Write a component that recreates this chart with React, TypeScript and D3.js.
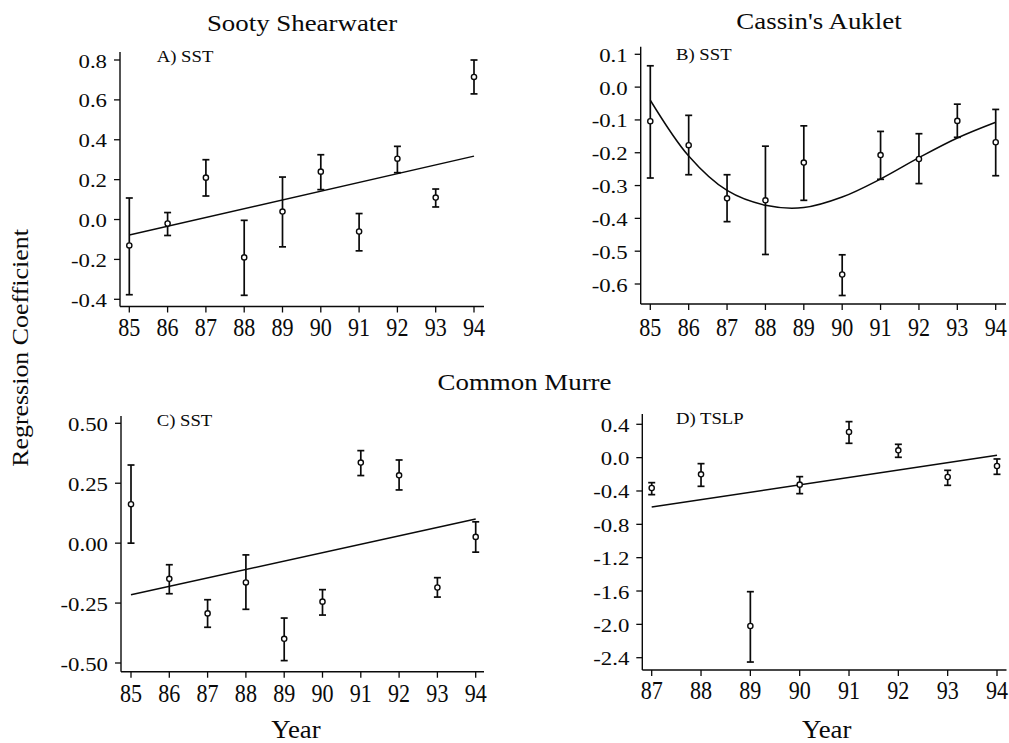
import React from 'react';
import * as d3 from 'd3';

// values
const years = [85, 86, 87, 88, 89, 90, 91, 92, 93, 94];
const tslpYears = [87, 88, 89, 90, 91, 92, 93, 94];

const sootyMean = [-0.13, -0.02, 0.21, -0.19, 0.04, 0.24, -0.06, 0.305, 0.11, 0.715];
const sootyLow = [-0.377, -0.08, 0.118, -0.38, -0.137, 0.15, -0.157, 0.235, 0.063, 0.63];
const sootyHigh = [0.108, 0.035, 0.3, -0.004, 0.213, 0.325, 0.03, 0.367, 0.153, 0.8];
const sootyFitYears = [85, 94];
const sootyFit = [-0.078, 0.318];

const aukletMean = [-0.104, -0.177, -0.339, -0.345, -0.23, -0.571, -0.207, -0.219, -0.103, -0.168];
const aukletLow = [-0.277, -0.267, -0.41, -0.51, -0.345, -0.635, -0.281, -0.294, -0.153, -0.27];
const aukletHigh = [0.065, -0.086, -0.267, -0.18, -0.118, -0.511, -0.135, -0.142, -0.052, -0.068];
const aukletFit = [-0.04, -0.21, -0.315, -0.36, -0.367, -0.335, -0.28, -0.215, -0.155, -0.107];

const murreSstMean = [0.1625, -0.149, -0.293, -0.164, -0.399, -0.244, 0.336, 0.283, -0.185, 0.026];
const murreSstLow = [0.0, -0.211, -0.351, -0.276, -0.49, -0.3, 0.282, 0.222, -0.225, -0.0375];
const murreSstHigh = [0.326, -0.09, -0.236, -0.049, -0.3125, -0.194, 0.386, 0.347, -0.144, 0.089];
const murreSstFitYears = [85, 94];
const murreSstFit = [-0.215, 0.101];

const murreTslpMean = [-0.364, -0.2, -2.02, -0.324, 0.308, 0.088, -0.232, -0.1];
const murreTslpLow = [-0.444, -0.344, -2.452, -0.432, 0.172, 0.004, -0.332, -0.2];
const murreTslpHigh = [-0.3, -0.072, -1.608, -0.228, 0.432, 0.16, -0.152, -0.016];
const murreTslpFitYears = [87, 94];
const murreTslpFit = [-0.592, 0.028];

const ticksA = [-0.4, -0.2, 0.0, 0.2, 0.4, 0.6, 0.8];
const ticksB = [-0.6, -0.5, -0.4, -0.3, -0.2, -0.1, 0.0, 0.1];
const ticksC = [-0.5, -0.25, 0.0, 0.25, 0.5];
const ticksD = [-2.4, -2.0, -1.6, -1.2, -0.8, -0.4, 0.0, 0.4];

const FONT = '"Liberation Serif", "Times New Roman", serif';
const INK = '#0a0a0a';

interface ILayout {
    xr: [number, number];   // pixel of first / last year
    yr: [number, number];   // pixel of lowest / highest tick
    left: number;
    right: number;
    top: number;
    bottom: number;
    labelX: number;
    labelY: number;
    tickGap: number;
}

interface IPanel {
    layout: ILayout;
    years: number[];
    mean: number[];
    low: number[];
    high: number[];
    fitYears: number[];
    fit: number[];
    smooth?: boolean;
    ticks: number[];
    fmt: string;
    label: string;
}

function Txt(props: { x: number; y: number; size: number; sx?: number; sy?: number; anchor?: string; rotate?: number; children: React.ReactNode }) {
    const { x, y, size, sx = 1, sy = 1, anchor = 'start', rotate = 0 } = props;
    return (
        <g transform={`translate(${x},${y}) rotate(${rotate}) scale(${sx},${sy})`}>
            <text fontSize={size} textAnchor={anchor as any} fontFamily={FONT} fill={INK}>{props.children}</text>
        </g>
    );
}

function Panel(p: IPanel) {
    const L = p.layout;
    const x = d3.scaleLinear().domain([p.years[0], p.years[p.years.length - 1]]).range(L.xr);
    const y = d3.scaleLinear().domain([p.ticks[0], p.ticks[p.ticks.length - 1]]).range(L.yr);
    const fmt = d3.format(p.fmt);

    const line = d3.line<number>()
        .x((_, i) => x(p.fitYears[i]))
        .y(d => y(d))
        .curve(p.smooth ? d3.curveCatmullRom : d3.curveLinear);

    const cap = 3.5;
    return (
        <g>
            <line x1={L.left} x2={L.left} y1={L.top} y2={L.bottom} stroke={INK} strokeWidth={1.4} />
            <line x1={L.left} x2={L.right} y1={L.bottom} y2={L.bottom} stroke={INK} strokeWidth={1.4} />
            {p.ticks.map(t => (
                <g key={t}>
                    <line x1={L.left - 6} x2={L.left} y1={y(t)} y2={y(t)} stroke={INK} strokeWidth={1.3} />
                    <Txt x={L.left - 13} y={y(t) + 7.5} size={19} sx={1.2} anchor="end">{fmt(t).replace('−', '-')}</Txt>
                </g>
            ))}
            {p.years.map(yr => (
                <g key={yr}>
                    <line x1={x(yr)} x2={x(yr)} y1={L.bottom} y2={L.bottom + 6} stroke={INK} strokeWidth={1.3} />
                    <Txt x={x(yr)} y={L.bottom + L.tickGap} size={26} sx={0.85} anchor="middle">{yr}</Txt>
                </g>
            ))}
            <Txt x={L.labelX} y={L.labelY} size={17} sx={1.1}>{p.label}</Txt>
            <path d={line(p.fit) || ''} fill="none" stroke={INK} strokeWidth={1.5} />
            {p.years.map((yr, i) => (
                <g key={'e' + yr} stroke={INK} strokeWidth={1.7}>
                    <line x1={x(yr)} x2={x(yr)} y1={y(p.low[i])} y2={y(p.high[i])} />
                    <line x1={x(yr) - cap} x2={x(yr) + cap} y1={y(p.low[i])} y2={y(p.low[i])} />
                    <line x1={x(yr) - cap} x2={x(yr) + cap} y1={y(p.high[i])} y2={y(p.high[i])} />
                    <circle cx={x(yr)} cy={y(p.mean[i])} r={2.6} fill="#fff" strokeWidth={1.4} />
                </g>
            ))}
        </g>
    );
}

const layoutA: ILayout = { xr: [129.3, 474], yr: [299.3, 60], left: 120, right: 484, top: 52, bottom: 306.5, labelX: 156.7, labelY: 62.3, tickGap: 29 };
const layoutB: ILayout = { xr: [650.3, 995.7], yr: [284, 54.3], left: 640.7, right: 1006, top: 46.7, bottom: 304, labelX: 676, labelY: 60, tickGap: 32 };
const layoutC: ILayout = { xr: [131, 475.7], yr: [663, 423.3], left: 121, right: 484, top: 416, bottom: 671.7, labelX: 156.7, labelY: 425.7, tickGap: 30 };
const layoutD: ILayout = { xr: [651.7, 997], yr: [657.7, 424.3], left: 642.3, right: 1006.5, top: 414, bottom: 670, labelX: 676, labelY: 424.3, tickGap: 28.5 };

export default function App() {
    return (
        <svg width={1009} height={743} style={{ position: 'absolute', left: 0, top: 0, background: '#fff' }}>
            <rect width={1009} height={743} fill="#fff" />
            <Txt x={302} y={30.5} size={24} sx={1.12} anchor="middle">Sooty Shearwater</Txt>
            <Txt x={819} y={29.3} size={24} sx={1.12} anchor="middle">Cassin's Auklet</Txt>
            <Txt x={524.5} y={390} size={24} sx={1.12} anchor="middle">Common Murre</Txt>
            <Txt x={28.3} y={348} size={24} sx={1.08} rotate={-90} anchor="middle">Regression Coefficient</Txt>
            <Txt x={296} y={738} size={26} sx={1.03} anchor="middle">Year</Txt>
            <Txt x={826.7} y={738} size={26} sx={1.03} anchor="middle">Year</Txt>

            <Panel layout={layoutA} years={years} mean={sootyMean} low={sootyLow} high={sootyHigh}
                fitYears={sootyFitYears} fit={sootyFit} ticks={ticksA} fmt=".1f" label="A) SST" />
            <Panel layout={layoutB} years={years} mean={aukletMean} low={aukletLow} high={aukletHigh}
                fitYears={years} fit={aukletFit} smooth ticks={ticksB} fmt=".1f" label="B) SST" />
            <Panel layout={layoutC} years={years} mean={murreSstMean} low={murreSstLow} high={murreSstHigh}
                fitYears={murreSstFitYears} fit={murreSstFit} ticks={ticksC} fmt=".2f" label="C) SST" />
            <Panel layout={layoutD} years={tslpYears} mean={murreTslpMean} low={murreTslpLow} high={murreTslpHigh}
                fitYears={murreTslpFitYears} fit={murreTslpFit} ticks={ticksD} fmt=".1f" label="D) TSLP" />
        </svg>
    );
}
